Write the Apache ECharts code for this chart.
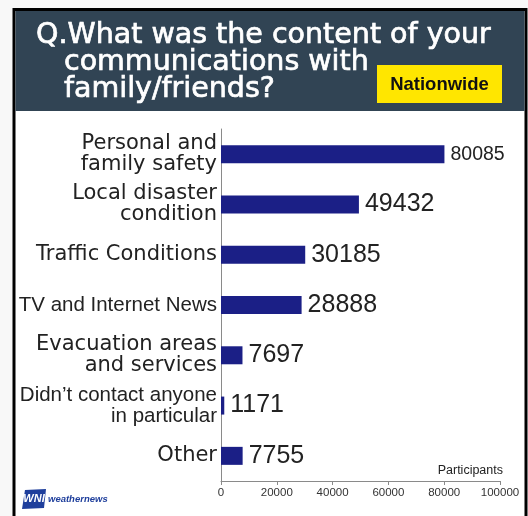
<!DOCTYPE html>
<html>
<head>
<meta charset="utf-8">
<style>
  html, body { margin: 0; padding: 0; background: #f8f8f8; }
  #chart { width: 528px; height: 516px; }
</style>
<script src="https://cdn.jsdelivr.net/npm/echarts@6/dist/echarts.min.js"></script>
</head>
<body>
<div id="chart"></div>
<script>
// Survey answers: what people talked about with family and friends
const categories = [
  'Personal and\nfamily safety',
  'Local disaster\ncondition',
  'Traffic Conditions',
  'TV and Internet News',
  'Evacuation areas\nand services',
  'Didn\u2019t contact anyone\nin particular',
  'Other'
];
const participants = [80085, 49432, 30185, 28888, 7697, 1171, 7755];

// Value axis range and step
const axisMin = 0;
const axisMax = 100000;
const axisStep = 20000;

const titleLines = ['Q.What was the content of your', 'communications with', 'family/friends?'];
const badgeText = 'Nationwide';
const axisTitle = 'Participants';

// Labels set in the narrower face
const narrowCategories = ['TV and Internet News', 'Didn\u2019t contact anyone\nin particular'];

const chart = echarts.init(document.getElementById('chart'), null, { renderer: 'canvas' });

const barColor = '#1b1f86';
const textColor = '#222222';

const seriesData = participants.map(function (v, i) {
  const item = { value: v };
  if (i === 0) {
    item.label = { fontSize: 19.5 };
  }
  return item;
});

chart.setOption({
  backgroundColor: '#f8f8f8',
  animation: false,
  grid: { left: 221, right: 28, top: 129, bottom: 35, containLabel: false },
  xAxis: {
    type: 'value',
    min: axisMin,
    max: axisMax,
    interval: axisStep,
    name: axisTitle,
    nameLocation: 'end',
    nameGap: 3,
    nameTextStyle: {
      color: '#222',
      fontFamily: '"Liberation Sans", sans-serif',
      fontSize: 12.5,
      align: 'right',
      verticalAlign: 'bottom',
      padding: [0, 0, 4, 0]
    },
    axisLine: { show: true, lineStyle: { color: '#8a8a8a', width: 1 } },
    axisTick: { show: true, length: 4, lineStyle: { color: '#8a8a8a' } },
    splitLine: { show: false },
    axisLabel: {
      color: '#333',
      fontFamily: '"Liberation Sans", sans-serif',
      fontSize: 11.5,
      margin: 6,
      showMaxLabel: true,
      showMinLabel: true,
      formatter: function (v) { return String(v); }
    }
  },
  yAxis: {
    type: 'category',
    data: categories,
    inverse: true,
    axisLine: { show: true, lineStyle: { color: '#8a8a8a', width: 1 } },
    axisTick: { show: false },
    splitLine: { show: false },
    axisLabel: {
      margin: 4,
      align: 'right',
      formatter: function (value) {
        const key = narrowCategories.indexOf(value) >= 0 ? 'n' : 'w';
        return value.split('\n').map(function (line) {
          return '{' + key + '|' + line + '}';
        }).join('\n');
      },
      rich: {
        w: {
          fontFamily: '"DejaVu Sans", sans-serif',
          fontSize: 21,
          lineHeight: 21,
          color: textColor,
          align: 'right'
        },
        n: {
          fontFamily: '"Liberation Sans", sans-serif',
          fontSize: 20.5,
          lineHeight: 21,
          color: textColor,
          align: 'right'
        }
      }
    }
  },
  series: [{
    type: 'bar',
    data: seriesData,
    barWidth: 18,
    itemStyle: { color: barColor },
    label: {
      show: true,
      position: 'right',
      distance: 6,
      color: textColor,
      fontFamily: '"Liberation Sans", sans-serif',
      fontSize: 25
    }
  }],
  graphic: [
    // outer frame and white panel
    {
      type: 'rect', z: -10, silent: true,
      shape: { x: 14, y: 9.5, width: 512, height: 520 },
      style: { fill: '#ffffff', stroke: '#000000', lineWidth: 3 }
    },
    // header band
    {
      type: 'rect', z: -9, silent: true,
      shape: { x: 15.5, y: 11, width: 509, height: 100 },
      style: { fill: '#314454' }
    },
    {
      type: 'text', z: 10, silent: true, x: 36, y: 36,
      style: {
        text: titleLines[0], fill: '#ffffff', font: '28.5px "DejaVu Sans", sans-serif',
        verticalAlign: 'middle', align: 'left', stroke: '#ffffff', lineWidth: 0.7
      }
    },
    {
      type: 'text', z: 10, silent: true, x: 64, y: 63,
      style: {
        text: titleLines[1], fill: '#ffffff', font: '28.5px "DejaVu Sans", sans-serif',
        verticalAlign: 'middle', align: 'left', stroke: '#ffffff', lineWidth: 0.7
      }
    },
    {
      type: 'text', z: 10, silent: true, x: 64, y: 90,
      style: {
        text: titleLines[2], fill: '#ffffff', font: '28.5px "DejaVu Sans", sans-serif',
        verticalAlign: 'middle', align: 'left', stroke: '#ffffff', lineWidth: 0.7
      }
    },
    // region badge
    {
      type: 'rect', z: 10, silent: true,
      shape: { x: 377, y: 65, width: 125, height: 38 },
      style: { fill: '#ffe600' }
    },
    {
      type: 'text', z: 11, silent: true, x: 439.5, y: 84.5,
      style: {
        text: badgeText, fill: '#111111',
        font: 'bold 18.5px "Liberation Sans", sans-serif',
        align: 'center', verticalAlign: 'middle'
      }
    },
    // company mark
    {
      type: 'polygon', z: 10, silent: true,
      shape: { points: [[25, 490], [46, 489], [44, 508], [22, 509]] },
      style: { fill: '#1f3f9c' }
    },
    {
      type: 'text', z: 11, silent: true, x: 34, y: 499,
      style: {
        text: 'WNI', fill: '#ffffff',
        font: 'italic bold 11px "Liberation Sans", sans-serif',
        align: 'center', verticalAlign: 'middle'
      }
    },
    {
      type: 'text', z: 11, silent: true, x: 48, y: 499,
      style: {
        text: 'weathernews', fill: '#1f3f9c',
        font: 'italic bold 9.5px "Liberation Sans", sans-serif',
        align: 'left', verticalAlign: 'middle'
      }
    }
  ]
});
</script>
</body>
</html>
